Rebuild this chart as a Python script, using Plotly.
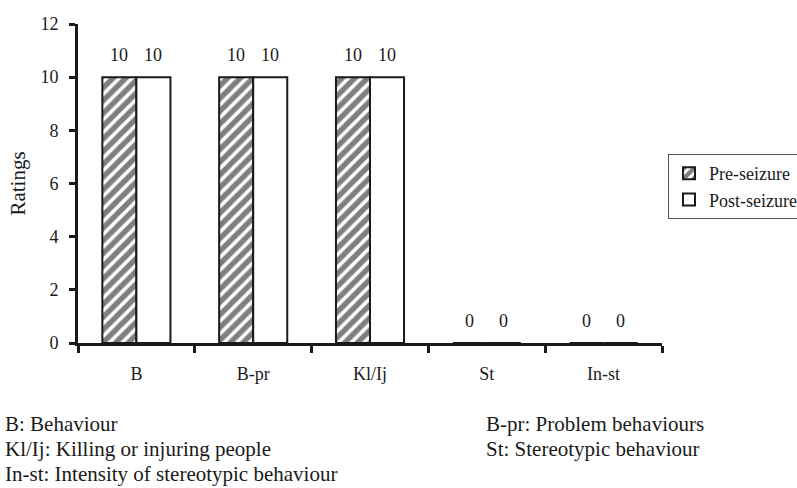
import plotly.graph_objects as go

categories = ["B", "B-pr", "Kl/Ij", "St", "In-st"]
pre_seizure = [10, 10, 10, 0, 0]
post_seizure = [10, 10, 10, 0, 0]
y_ticks = [0, 2, 4, 6, 8, 10, 12]
footnotes_left = ["B: Behaviour", "Kl/Ij: Killing or injuring people",
                  "In-st: Intensity of stereotypic behaviour"]
footnotes_right = ["B-pr: Problem behaviours", "St: Stereotypic behaviour"]

FONT = "Liberation Serif, Times New Roman, serif"
INK = "#1a1a1a"

L, R, T, B = 78, 135, 24, 145
W, H = 797, 488
plot_w = W - L - R
plot_h = H - T - B


def px_x(px):
    return (px - L) / plot_w


def px_y(py):
    return (H - B - py) / plot_h


fig = go.Figure()
fig.add_trace(go.Bar(
    name="Pre-seizure", x=categories, y=pre_seizure,
    marker=dict(color="white", line=dict(color=INK, width=2),
                pattern=dict(shape="/", fgcolor="#000", bgcolor="white", size=9, solidity=0.6)),
))
fig.add_trace(go.Bar(
    name="Post-seizure", x=categories, y=post_seizure,
    marker=dict(color="white", line=dict(color=INK, width=2)),
))

annotations = []
for i, c in enumerate(categories):
    for v, shift in ((pre_seizure[i], -17), (post_seizure[i], 17)):
        annotations.append(dict(x=c, y=v, xref="x", yref="y", text=str(v), showarrow=False,
                                xshift=shift, yshift=22, font=dict(family=FONT, size=18, color=INK)))

for j, t in enumerate(footnotes_left):
    annotations.append(dict(x=px_x(4), y=px_y(424 + 25 * j), xref="paper", yref="paper",
                            text=t, showarrow=False, xanchor="left", yanchor="middle",
                            font=dict(family=FONT, size=21, color=INK), borderpad=0))
for j, t in enumerate(footnotes_right):
    annotations.append(dict(x=px_x(485), y=px_y(424 + 25 * j), xref="paper", yref="paper",
                            text=t, showarrow=False, xanchor="left", yanchor="middle",
                            font=dict(family=FONT, size=21, color=INK), borderpad=0))

fig.update_layout(
    width=W, height=H,
    margin=dict(l=L, r=R, t=T, b=B, autoexpand=False),
    paper_bgcolor="white", plot_bgcolor="white",
    barmode="group", bargap=0.417, bargroupgap=0,
    font=dict(family=FONT, size=18, color=INK),
    showlegend=True,
    legend=dict(x=px_x(668), y=px_y(154), xanchor="left", yanchor="top",
                bordercolor="#555", borderwidth=1, bgcolor="white",
                font=dict(family=FONT, size=18, color=INK)),
    annotations=annotations,
    xaxis=dict(showline=True, linecolor=INK, linewidth=3, ticks="outside", tickson="boundaries",
               ticklen=7, tickwidth=3, tickcolor=INK, showgrid=False, zeroline=False, automargin=False,
               ticklabelstandoff=12, tickfont=dict(family=FONT, size=18, color=INK)),
    yaxis=dict(range=[0, 12], tickvals=y_ticks, showline=True, linecolor=INK, linewidth=3,
               ticks="outside", ticklen=6, tickwidth=3, tickcolor=INK, showgrid=False, automargin=False,
               ticklabelstandoff=7, zeroline=False, tickfont=dict(family=FONT, size=18, color=INK),
               title=dict(text="Ratings", font=dict(family=FONT, size=21, color=INK), standoff=10)),
)

fig.write_html("out.html", config={"displayModeBar": False},
               post_script="document.body.style.margin='0';document.body.style.padding='0';")
